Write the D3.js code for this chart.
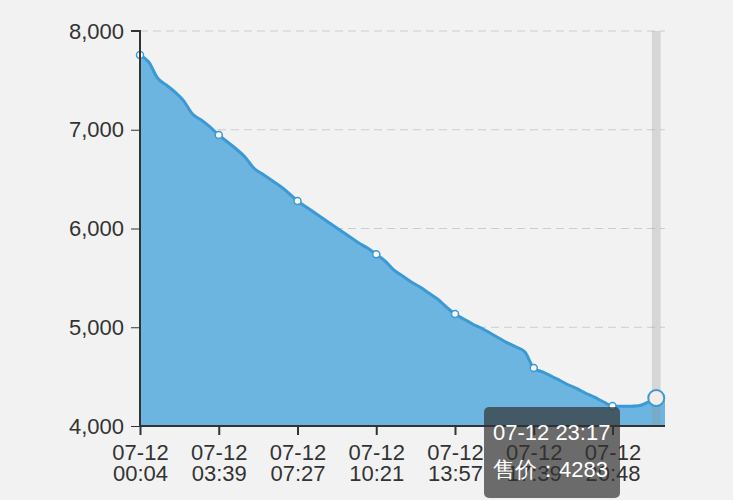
<!DOCTYPE html>
<html>
<head>
<meta charset="utf-8">
<script src="https://cdn.jsdelivr.net/npm/d3@7/dist/d3.min.js"></script>
<style>
  html, body { margin: 0; padding: 0; background: #f2f2f2; }
  svg { display: block; font-family: "Liberation Sans", Arial, sans-serif; }
  .axis text { font-size: 22px; fill: #333; }
  .axis path, .axis line { stroke: #333; }
  .grid line { stroke: #cccccc; stroke-dasharray: 8 5; }
  .tipText { font-size: 22px; fill: #fff; }
</style>
</head>
<body>
<div id="chart"></div>
<script>
"use strict";

// category times (all on 07-12)
let times = [
  "00:04", "00:27", "00:51", "01:14", "01:38", "02:02", "02:25", "02:49", "03:14", "03:39",
  "04:05", "04:30", "04:55", "05:20", "05:46", "06:11", "06:36", "07:01", "07:27",
  "07:46", "08:05", "08:24", "08:43", "09:03", "09:22", "09:42", "10:01", "10:21",
  "10:45", "11:09", "11:33", "11:57", "12:21", "12:45", "13:09", "13:33", "13:57",
  "14:22", "14:46", "15:10", "15:34", "15:59", "16:24", "16:49", "17:14", "17:39",
  "18:00", "18:21", "18:42", "19:03", "19:24", "19:45", "20:06", "20:27", "20:48",
  "21:18", "21:47", "22:17", "22:47", "23:17", "23:46"
];
let categories = times.map(t => "07-12 " + t);

// 售价
let prices = [
  7757, 7686, 7524, 7453, 7382, 7291, 7159, 7099, 7028, 6947,
  6876, 6805, 6724, 6613, 6552, 6491, 6430, 6359, 6278,
  6218, 6157, 6096, 6035, 5975, 5914, 5853, 5803, 5738,
  5671, 5580, 5519, 5458, 5408, 5347, 5286, 5205, 5134,
  5084, 5033, 4992, 4942, 4891, 4841, 4800, 4749, 4587,
  4547, 4506, 4461, 4415, 4375, 4329, 4289, 4243, 4203,
  4200, 4200, 4205, 4238, 4283, 4290
];

let yTicks = [4000, 5000, 6000, 7000, 8000];
let labelInterval = 9;
let hoverIndex = 59;
let seriesName = "售价";

let width = 733;
let height = 500;
let margin = { top: 31, right: 68, bottom: 74, left: 140 };

let svg = d3.select("#chart").append("svg")
  .attr("width", width)
  .attr("height", height);

svg.append("rect")
  .attr("width", width)
  .attr("height", height)
  .attr("fill", "#f2f2f2");

let x = d3.scalePoint()
  .domain(categories)
  .range([margin.left, width - margin.right]);

let y = d3.scaleLinear()
  .domain([4000, 8000])
  .range([height - margin.bottom, margin.top]);

let data = categories.map((c, i) => ({ cat: c, value: prices[i], i: i }));

// dashed grid
svg.append("g")
  .attr("class", "grid")
  .selectAll("line")
  .data(yTicks.filter(d => d !== 4000))
  .enter().append("line")
  .attr("x1", margin.left)
  .attr("x2", width - margin.right)
  .attr("y1", d => y(d))
  .attr("y2", d => y(d));

// area + line
let area = d3.area()
  .curve(d3.curveMonotoneX)
  .x(d => x(d.cat))
  .y0(y(4000))
  .y1(d => y(d.value));

let line = d3.line()
  .curve(d3.curveMonotoneX)
  .x(d => x(d.cat))
  .y(d => y(d.value));

svg.append("path")
  .datum(data)
  .attr("fill", "#6bb5e0")
  .attr("d", area);

svg.append("path")
  .datum(data)
  .attr("fill", "none")
  .attr("stroke", "#3b9ad5")
  .attr("stroke-width", 3)
  .attr("stroke-linejoin", "round")
  .attr("d", line);

// axis pointer shadow
let band = x.step();
svg.append("rect")
  .attr("x", x(categories[hoverIndex]) - band / 2)
  .attr("y", margin.top)
  .attr("width", band)
  .attr("height", y(4000) - margin.top)
  .attr("fill", "rgba(150,150,150,0.3)");

// symbols at label interval
svg.append("g")
  .selectAll("circle")
  .data(data.filter(d => d.i % labelInterval === 0))
  .enter().append("circle")
  .attr("cx", d => x(d.cat))
  .attr("cy", d => y(d.value))
  .attr("r", 3.5)
  .attr("fill", "#fff")
  .attr("stroke", "#3b9ad5")
  .attr("stroke-width", 1.5);

// axes
let yAxis = d3.axisLeft(y)
  .tickValues(yTicks)
  .tickFormat(d3.format(","))
  .tickSize(9)
  .tickPadding(7);

let yG = svg.append("g")
  .attr("class", "axis")
  .attr("transform", `translate(${margin.left}, 0)`)
  .call(yAxis);
yG.select(".domain").attr("d", `M-9,${y(8000)}H0V${y(4000)}`).attr("stroke-width", 2);

let xAxis = d3.axisBottom(x)
  .tickValues(categories.filter((c, i) => i % labelInterval === 0))
  .tickSize(9)
  .tickFormat("");

let xG = svg.append("g")
  .attr("class", "axis")
  .attr("transform", `translate(0, ${y(4000)})`)
  .call(xAxis);
xG.select(".domain").attr("d", `M${margin.left},0H${width - margin.right}`).attr("stroke-width", 2);
xG.selectAll(".tick line").attr("stroke-width", 2);

xG.selectAll(".tick").each(function(d) {
  let parts = d.split(" ");
  let t = d3.select(this).append("text")
    .attr("text-anchor", "middle")
    .attr("fill", "#333");
  t.append("tspan").attr("x", 0).attr("y", 34).text(parts[0]);
  t.append("tspan").attr("x", 0).attr("y", 55).text(parts[1]);
});

// hovered point
let hov = data[hoverIndex];
svg.append("circle")
  .attr("cx", x(hov.cat))
  .attr("cy", y(hov.value))
  .attr("r", 8)
  .attr("fill", "#f6ece6")
  .attr("stroke", "#3b9ad5")
  .attr("stroke-width", 2);

// tooltip
let tip = svg.append("g")
  .attr("transform", "translate(484, 407)");

tip.append("rect")
  .attr("width", 136)
  .attr("height", 91)
  .attr("rx", 5)
  .attr("fill", "rgba(50,50,50,0.7)");

tip.append("text")
  .attr("class", "tipText")
  .attr("x", 9)
  .attr("y", 33)
  .text(hov.cat);

tip.append("text")
  .attr("class", "tipText")
  .attr("x", 9)
  .attr("y", 70)
  .text(seriesName + "：" + hov.value);
</script>
</body>
</html>
